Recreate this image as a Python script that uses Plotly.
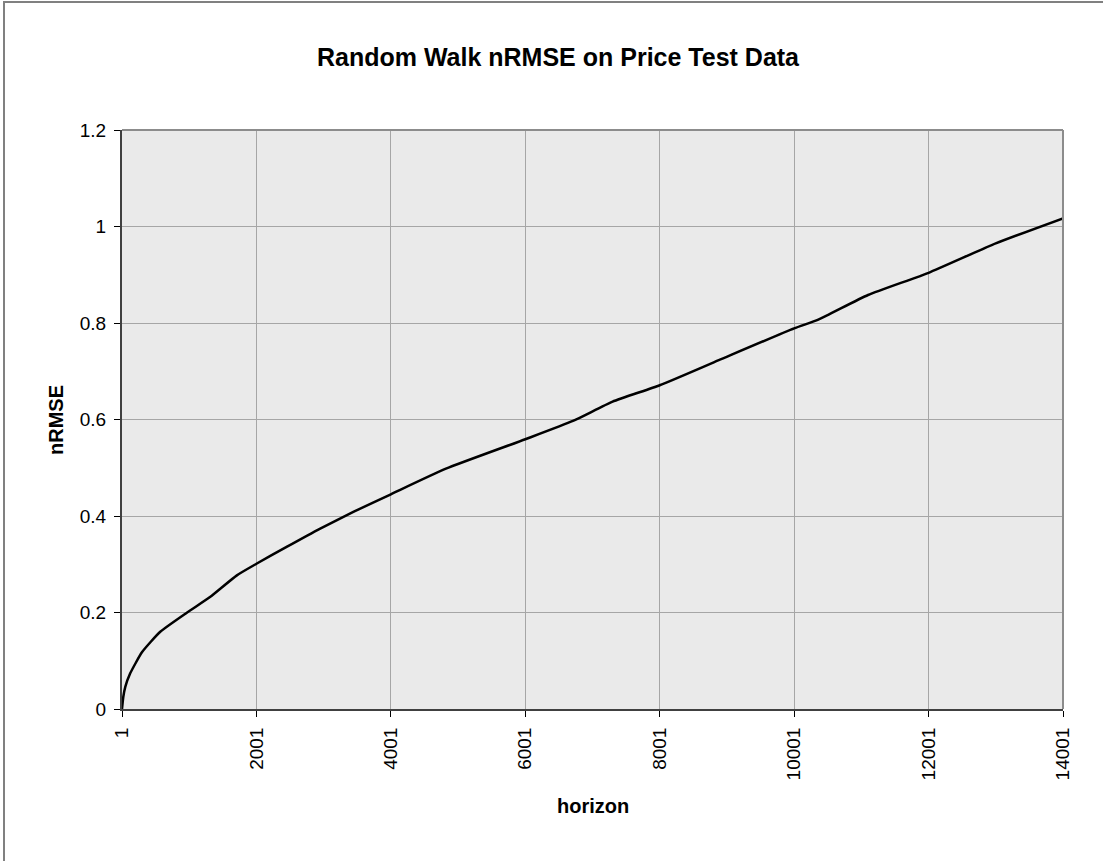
import plotly.graph_objects as go

# horizon vs nRMSE
horizon = [1, 20, 50, 120, 300, 570, 970, 1310, 1710, 2001, 2450, 2950, 3450,
           4001, 4820, 6001, 6710, 7300, 8001, 8880, 10001, 10360, 11100,
           12001, 13000, 14001]
nrmse = [0.0, 0.025, 0.046, 0.073, 0.118, 0.160, 0.200, 0.232, 0.277, 0.301,
         0.336, 0.374, 0.409, 0.445, 0.498, 0.559, 0.597, 0.637, 0.671, 0.723,
         0.789, 0.807, 0.858, 0.904, 0.965, 1.017]

x_ticks = [1, 2001, 4001, 6001, 8001, 10001, 12001, 14001]
y_ticks = [0, 0.2, 0.4, 0.6, 0.8, 1.0, 1.2]
y_labels = ["0", "0.2", "0.4", "0.6", "0.8", "1", "1.2"]

fig = go.Figure()
fig.add_trace(go.Scatter(x=horizon, y=nrmse, mode="lines",
                         line=dict(color="#000000", width=2.5, shape="spline", smoothing=0.5),
                         showlegend=False, hoverinfo="x+y"))

font = "Arial, Liberation Sans, sans-serif"
fig.update_layout(
    width=1103, height=861,
    margin=dict(l=122, r=40, t=130, b=152),
    paper_bgcolor="white", plot_bgcolor="#EAEAEA",
    font=dict(family=font, color="black", size=19),
    title=dict(text="<b>Random Walk nRMSE on Price Test Data</b>",
               x=558 / 1103, xanchor="center", y=1 - 57 / 861, yanchor="middle",
               font=dict(size=25, family=font)),
    showlegend=False,
)
fig.update_xaxes(range=[1, 14001], tickvals=x_ticks, ticktext=[str(v) for v in x_ticks],
                 tickangle=-90, ticks="outside", ticklen=6, tickcolor="black",
                 ticklabelstandoff=3,
                 showgrid=True, gridcolor="#A6A6A6", gridwidth=1,
                 showline=True, linecolor="#404040", linewidth=2, mirror=False,
                 zeroline=False, tickfont=dict(size=19))
fig.update_yaxes(range=[0, 1.2], tickvals=y_ticks, ticktext=y_labels,
                 ticks="outside", ticklen=6, tickcolor="black",
                 ticklabelstandoff=4,
                 showgrid=True, gridcolor="#A6A6A6", gridwidth=1,
                 showline=True, linecolor="#404040", linewidth=2, mirror=False,
                 zeroline=False, tickfont=dict(size=19))

# top / right frame of the plot area
fig.add_shape(type="line", xref="paper", yref="paper", x0=0, x1=1, y0=1, y1=1,
              line=dict(color="#8C8C8C", width=2))
fig.add_shape(type="line", xref="paper", yref="paper", x0=1, x1=1, y0=0, y1=1,
              line=dict(color="#8C8C8C", width=2))
# outer chart border (only left/top visible in the frame)
fig.add_shape(type="rect", xref="paper", yref="paper",
              x0=(4 - 122) / 941, x1=2, y0=-2, y1=(709 - 2) / 579,
              line=dict(color="#808080", width=2), layer="below")

fig.add_annotation(text="<b>nRMSE</b>", xref="paper", yref="paper",
                   x=(56 - 122) / 941, y=(709 - 420) / 579, textangle=-90, showarrow=False,
                   xanchor="center", yanchor="middle", font=dict(size=20, family=font))
fig.add_annotation(text="<b>horizon</b>", xref="paper", yref="paper",
                   x=(593 - 122) / 941, y=(709 - 806) / 579, showarrow=False,
                   xanchor="center", yanchor="middle", font=dict(size=20, family=font))

fig.write_html("out.html", config={"displayModeBar": False},
               post_script="document.body.style.margin='0';")
